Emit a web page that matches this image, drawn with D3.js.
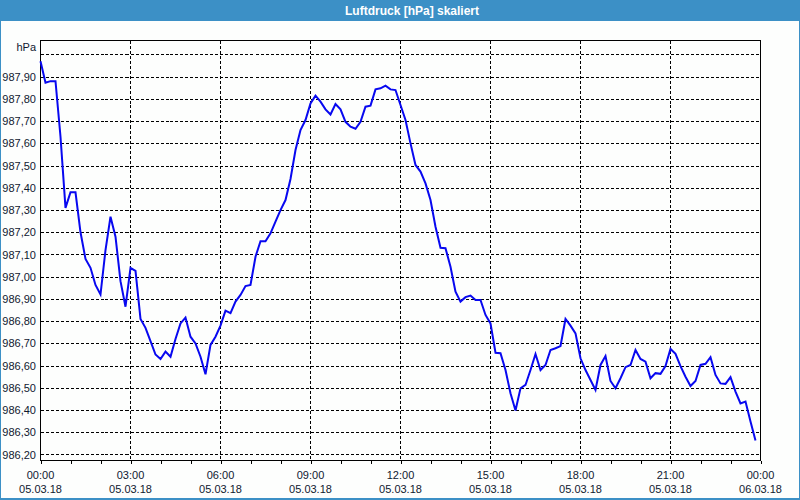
<!DOCTYPE html>
<html>
<head>
<meta charset="utf-8">
<script src="https://cdn.jsdelivr.net/npm/d3@7"></script>
<style>
  html, body { margin: 0; padding: 0; background: #fdfefd; }
  svg { display: block; }
  text { font-family: "Liberation Sans", Arial, sans-serif; }
</style>
</head>
<body>
<svg id="chart" width="800" height="500"></svg>
<script>
// ---- data ----
const title = "Luftdruck [hPa] skaliert";
const unitLabel = "hPa";
const startTime = "2018-03-05T00:00:00";
const endTime = "2018-03-06T00:00:00";
const stepMinutes = 10;
// pressure readings every 10 minutes from 05.03.18 00:00
const pressure = [
  987.97, 987.873, 987.88, 987.88, 987.63, 987.31, 987.38, 987.38, 987.20, 987.08,
  987.04, 986.963, 986.92, 987.12, 987.27, 987.18, 986.98, 986.865, 987.04, 987.026,
  986.81, 986.77, 986.71, 986.65, 986.63, 986.663, 986.64, 986.72, 986.79, 986.816,
  986.73, 986.70, 986.64, 986.561, 986.693, 986.73, 986.78, 986.847, 986.836, 986.888,
  986.918, 986.958, 986.963, 987.09, 987.16, 987.16, 987.195, 987.248, 987.30, 987.345,
  987.44, 987.57, 987.66, 987.705, 987.78, 987.815, 987.788, 987.753, 987.73, 987.777,
  987.753, 987.697, 987.675, 987.666, 987.697, 987.765, 987.77, 987.843, 987.848, 987.86,
  987.843, 987.84, 987.773, 987.705, 987.60, 987.503, 987.473, 987.42, 987.345, 987.225,
  987.13, 987.128, 987.045, 986.933, 986.888, 986.908, 986.915, 986.895, 986.895, 986.828,
  986.79, 986.658, 986.656, 986.58, 986.476, 986.398, 986.498, 986.513, 986.58, 986.652,
  986.58, 986.603, 986.67, 986.678, 986.688, 986.81, 986.78, 986.745, 986.633, 986.58,
  986.535, 986.49, 986.603, 986.643, 986.531, 986.498, 986.543, 986.593, 986.603, 986.67,
  986.63, 986.618, 986.543, 986.566, 986.563, 986.598, 986.675, 986.653, 986.598, 986.55,
  986.508, 986.531, 986.603, 986.608, 986.638, 986.558, 986.52, 986.518, 986.548, 986.483,
  986.43, 986.438, 986.348, 986.263
];
const yTicks = [986.20, 986.30, 986.40, 986.50, 986.60, 986.70, 986.80, 986.90,
  987.00, 987.10, 987.20, 987.30, 987.40, 987.50, 987.60, 987.70, 987.80, 987.90, 988.00];
const yLabelTicks = yTicks.slice(0, 18); // 988,00 has a grid line but no label
const xLabelHours = [0, 3, 6, 9, 12, 15, 18, 21, 24];
const yDomain = [986.173, 988.063];

// ---- layout ----
const svg = d3.select("#chart");
const W = 800, H = 500;
const plot = { left: 40.5, right: 760.5, top: 40.5, bottom: 460.5 };

const t0 = new Date(startTime), t1 = new Date(endTime);
const x = d3.scaleTime().domain([t0, t1]).range([plot.left, plot.right]);
const y = d3.scaleLinear().domain(yDomain).range([plot.bottom, plot.top]);

const data = pressure.map((v, i) => ({ t: d3.timeMinute.offset(t0, i * stepMinutes), v }));

// background
svg.append("rect").attr("x", 0).attr("y", 0).attr("width", W).attr("height", H).attr("fill", "#fdfefd");

// title bar
svg.append("rect").attr("x", 0).attr("y", 0).attr("width", W).attr("height", 21).attr("fill", "#3c90c6");
svg.append("text").attr("x", 345).attr("y", 15).attr("fill", "#ffffff")
  .attr("font-size", 12).attr("font-weight", "bold").text(title);

// window border
svg.append("rect").attr("x", 0.5).attr("y", 0.5).attr("width", W - 1).attr("height", H - 1)
  .attr("fill", "none").attr("stroke", "#3c90c6").attr("stroke-width", 1);
svg.append("line").attr("x1", 0).attr("x2", W).attr("y1", 498.5).attr("y2", 498.5)
  .attr("stroke", "#3c90c6").attr("stroke-width", 1);

// grid - horizontal
svg.append("g").selectAll("line").data(yTicks).join("line")
  .attr("x1", plot.left).attr("x2", plot.right)
  .attr("y1", d => Math.round(y(d)) + 0.5).attr("y2", d => Math.round(y(d)) + 0.5)
  .attr("stroke", "#000").attr("stroke-dasharray", "3,2").attr("shape-rendering", "crispEdges");

// grid - vertical
const gridHours = xLabelHours.slice(1, -1);
svg.append("g").selectAll("line").data(gridHours).join("line")
  .attr("x1", d => x(d3.timeHour.offset(t0, d))).attr("x2", d => x(d3.timeHour.offset(t0, d)))
  .attr("y1", plot.top).attr("y2", plot.bottom)
  .attr("stroke", "#000").attr("stroke-dasharray", "3,2").attr("shape-rendering", "crispEdges");

// frame
svg.append("rect").attr("x", plot.left).attr("y", plot.top)
  .attr("width", plot.right - plot.left).attr("height", plot.bottom - plot.top)
  .attr("fill", "none").attr("stroke", "#000").attr("shape-rendering", "crispEdges");

// x axis: hourly ticks, labels every 3 hours
const xAxis = d3.axisBottom(x)
  .ticks(d3.timeHour.every(1))
  .tickSize(3)
  .tickFormat(() => "");
const gx = svg.append("g").attr("transform", `translate(0,${plot.bottom})`).call(xAxis);
gx.select(".domain").remove();
gx.selectAll(".tick line").attr("stroke", "#000").attr("shape-rendering", "crispEdges");

const fmtTime = d3.timeFormat("%H:%M"), fmtDate = d3.timeFormat("%d.%m.%y");
const xl = svg.append("g").selectAll("g").data(xLabelHours).join("g")
  .attr("transform", d => `translate(${x(d3.timeHour.offset(t0, d))},0)`);
xl.append("text").attr("y", 479).attr("text-anchor", "middle").attr("font-size", 11).attr("fill", "#101830")
  .text(d => fmtTime(d3.timeHour.offset(t0, d)));
xl.append("text").attr("y", 493).attr("text-anchor", "middle").attr("font-size", 11).attr("fill", "#101830")
  .text(d => fmtDate(d3.timeHour.offset(t0, d)));

// y axis labels
const yFmt = v => d3.format(".2f")(v).replace(".", ",");
const yAxis = d3.axisLeft(y).tickValues(yLabelTicks).tickSize(0).tickPadding(4).tickFormat(yFmt);
const gy = svg.append("g").attr("transform", `translate(${plot.left - 0.5},0)`).call(yAxis);
gy.select(".domain").remove();
gy.selectAll("text").attr("font-family", "Liberation Sans, Arial, sans-serif")
  .attr("font-size", 11).attr("fill", "#101830");

svg.append("text").attr("x", 36).attr("y", 51).attr("text-anchor", "end")
  .attr("font-size", 11).attr("fill", "#101830").text(unitLabel);

// line
const line = d3.line().x(d => x(d.t)).y(d => y(d.v));
svg.append("path").datum(data).attr("d", line)
  .attr("fill", "none").attr("stroke", "#0808f0").attr("stroke-width", 2)
  .attr("stroke-linejoin", "miter");
</script>
</body>
</html>
